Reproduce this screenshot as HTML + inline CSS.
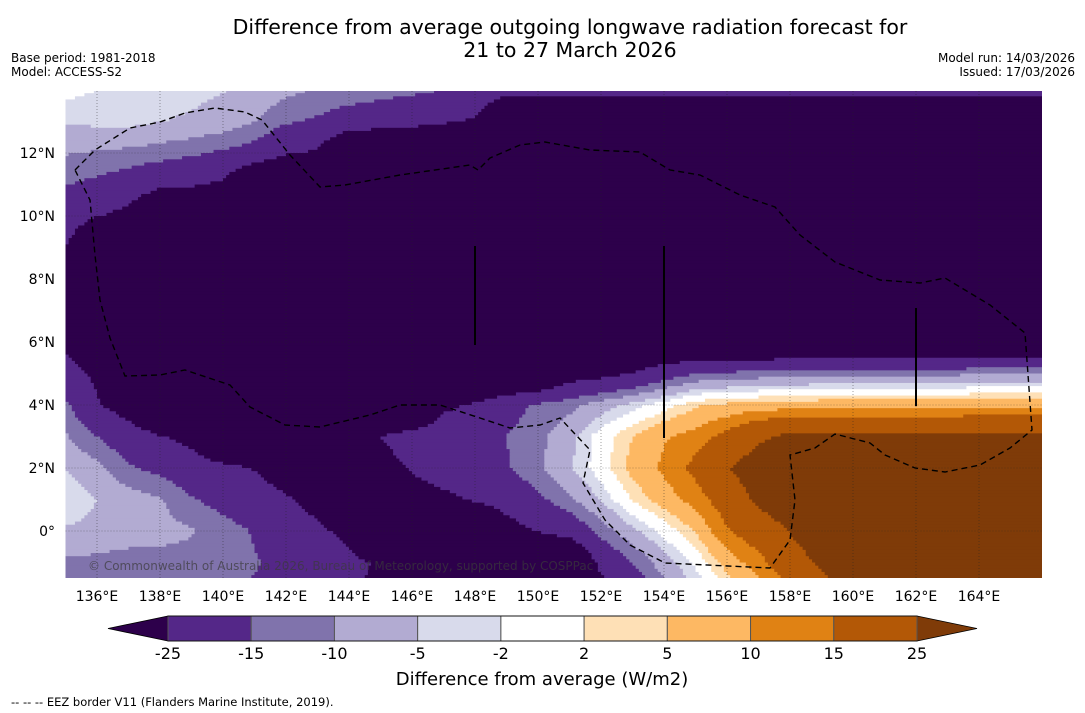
<!DOCTYPE html>
<html><head><meta charset="utf-8">
<style>
html,body{margin:0;padding:0;background:#fff;}
body{width:1085px;height:713px;overflow:hidden;position:relative;font-family:"DejaVu Sans","Liberation Sans",sans-serif;}
svg{position:absolute;left:0;top:0;}
text{font-family:"DejaVu Sans","Liberation Sans",sans-serif;fill:#000;}
</style></head>
<body>
<svg id="chart" width="1085" height="713" viewBox="0 0 1085 713" xmlns="http://www.w3.org/2000/svg">
  <text x="570" y="34" font-size="20.5" text-anchor="middle">Difference from average outgoing longwave radiation forecast for</text>
  <text x="570" y="57" font-size="20.5" text-anchor="middle">21 to 27 March 2026</text>
  <text x="11" y="62" font-size="12">Base period: 1981-2018</text>
  <text x="11" y="76" font-size="12">Model: ACCESS-S2</text>
  <text x="1075" y="62" font-size="12" text-anchor="end">Model run: 14/03/2026</text>
  <text x="1075" y="76" font-size="12" text-anchor="end">Issued: 17/03/2026</text>
  <defs><clipPath id="mapclip"><rect x="65.5" y="91" width="976.5" height="487"/></clipPath></defs>
  <g id="field" clip-path="url(#mapclip)"></g>
  <g id="grid" clip-path="url(#mapclip)"></g>
  <g clip-path="url(#mapclip)">
    <path fill="none" stroke="#000" stroke-width="1.4" stroke-dasharray="6,4"
      d="M75,170 L95,150 L130,128 L160,122 L185,113 L215,108 L245,112 L262,120 L290,155 L320,187 L345,185 L400,175 L470,165 L478,170 L490,158 L520,145 L545,142 L590,150 L640,152 L670,170 L700,175 L740,195 L775,207 L800,235 L835,262 L880,280 L920,283 L945,278 L990,305 L1025,333 L1032,430 L1010,448 L980,465 L945,472 L915,468 L885,455 L870,443 L835,434 L815,448 L790,455 L795,500 L790,540 L770,568 L665,563 L630,545 L605,520 L583,483 L590,450 L560,418 L540,425 L510,428 L480,418 L440,405 L400,405 L370,415 L320,427 L285,425 L250,407 L230,385 L185,370 L160,375 L125,376 L110,338 L100,300 L95,255 L90,200 Z"/>
    <line x1="475" y1="246" x2="475" y2="345" stroke="#000" stroke-width="2"/>
    <line x1="664" y1="246" x2="664" y2="438" stroke="#000" stroke-width="2"/>
    <line x1="916" y1="308" x2="916" y2="406" stroke="#000" stroke-width="2"/>
  </g>
  <text x="88" y="570" font-size="12" style="fill:#3a3a3a;fill-opacity:0.7">© Commonwealth of Australia 2026, Bureau of Meteorology, supported by COSPPac</text>
  <g id="xaxis"></g>
  <g id="yaxis"></g>
  <g id="colorbar"></g>
  <text x="542" y="685" font-size="18" text-anchor="middle">Difference from average (W/m2)</text>
  <text x="11" y="706" font-size="11.5">--  --  -- EEZ border V11 (Flanders Marine Institute, 2019).</text>
</svg>
<script>
const gridLons = [135,136,137,138,139,140,141,142,143,144,145,146,147,148,149,150,151,152,153,154,155,156,157,158,159,160,161,162,163,164,165,166];
const gridLats = [14,13,12,11,10,9,8,7,6,5,4,3,2,1,0,-1,-2];
const D=-40;
const row14 = [-1,-2,-3,-3.5,-4,-4.8,-6.5,-8.5,-10.5,-11.5,-12.5,-13.5,-15,-17,-22,-22,-22,-22,-22,-22,-22,-22,-22,-22,-22,-22,-22,-22,-22,-22,-22,-22];
const row13 = [-4.3,-4,-3.6,-4.9,-5.5,-6.7,-9.8,-14.2,-16,-18.8,-20.5,-22,-24,-26,D,D,D,D,D,D,D,D,D,D,D,D,D,D,D,D,D,D];
const row12 = [-9.7,-10.5,-11.3,-12.3,-13.9,-16,-18,-24.3,-26,D,D,D,D,D,D,D,D,D,D,D,D,D,D,D,D,D,D,D,D,D,D,D];
const row11 = [-14.8,-16.6,-18.8,-22.8,-24,-26.5,D,D,D,D,D,D,D,D,D,D,D,D,D,D,D,D,D,D,D,D,D,D,D,D,D,D];
const row10 = [-19.6,-24.5,-28,D,D,D,D,D,D,D,D,D,D,D,D,D,D,D,D,D,D,D,D,D,D,D,D,D,D,D,D,D];
const row9 = [-24.5,D,D,D,D,D,D,D,D,D,D,D,D,D,D,D,D,D,D,D,D,D,D,D,D,D,D,D,D,D,D,D];
const row8 = [-30,D,D,D,D,D,D,D,D,D,D,D,D,D,D,D,D,D,D,D,D,D,D,D,D,D,D,D,D,D,D,D];
const row7 = [D,D,D,D,D,D,D,D,D,D,D,D,D,D,D,D,D,D,D,D,D,D,D,D,D,D,D,D,D,D,D,D];
const row6 = [-27,D,D,D,D,D,D,D,D,D,D,D,D,D,D,D,D,D,D,D,D,D,D,D,D,D,D,D,D,D,D,D];
const row5 = [-20,-27,D,D,D,D,D,D,D,D,D,D,D,D,D,D,-30,-28,-25,-19,-15,-14,-13,-12.5,-11.5,-11.5,-11.5,-11.5,-11.5,-10,-10,-10];
const row4 = [-13.7,-24,-30,D,D,D,D,D,D,D,D,D,-27,-24,-18,-14,-11.5,-7.5,-3.5,0,4.5,6,7,7.5,8,8,8,8,8,9,9,9];
const row3 = [-9.5,-15,-20,-24.5,-28,D,D,D,D,D,-25,-21,-19,-17.5,-15,-11.5,-6.5,0,5,9.5,12,17,23.5,27,27,27,27,27,27,27,27,27];
const row2 = [-5,-8.5,-14,-17,-20,-22.5,-25.5,-30,D,D,-28,-24.5,-21,-18.5,-15.5,-11,-5.5,0,6.5,11,17,24.5,30,30,30,30,30,30,30,30,30,30];
const row1 = [-2.5,-5,-7.5,-9.5,-14.5,-17.5,-20.5,-24,-28,D,D,-28,-27,-24,-21,-16.5,-11,-4.5,2.2,7.5,12,19,27,32,32,32,32,32,32,32,32,32];
const row0 = [-5.5,-6,-7,-8,-9.5,-12.5,-15.5,-20,-23.5,-27,D,D,D,D,-29,-24.5,-21,-13,-6,-0.7,5.5,14.5,19,25.5,32,32,32,32,32,32,32,32];
const rowS1 = [-11,-11.5,-12.5,-12,-12,-13,-14.5,-17,-20,-23,-26,D,D,D,D,D,D,-22,-15,-7,-1,7,13,20,27,32,32,32,32,32,32,32];
const rowS2 = [-16,-14,-14,-14,-14,-15,-16,-18,-21,-24,-27,D,D,D,D,D,D,-30,-22,-13,-6,1,7,14,20,26,32,32,32,32,32,32];
const fieldRows = [row14,row13,row12,row11,row10,row9,row8,row7,row6,row5,row4,row3,row2,row1,row0,rowS1,rowS2];
const levels = [-25,-15,-10,-5,-2,2,5,10,15,25];
const levelLabels = ["-25","-15","-10","-5","-2","2","5","10","15","25"];
const levelColors = ["#2d004b","#542788","#8073ac","#b2abd2","#d8daeb","#ffffff","#fee0b6","#fdb863","#e08214","#b35806","#7f3b08"];
const xTicks = [136,138,140,142,144,146,148,150,152,154,156,158,160,162,164];
const yTicks = [0,2,4,6,8,10,12];

const NS="http://www.w3.org/2000/svg";
function xScale(lon){return 65.5+(lon-135)*31.5;}
function yScale(lat){return 531-lat*31.5;}
function mk(tag,attrs,parent){const e=document.createElementNS(NS,tag);for(const k in attrs)e.setAttribute(k,attrs[k]);parent.appendChild(e);return e;}
function valueAt(lon,lat){
  let fi=(lon-gridLons[0])/(gridLons[1]-gridLons[0]);
  let fj=(gridLats[0]-lat)/(gridLats[0]-gridLats[1]);
  fi=Math.max(0,Math.min(gridLons.length-1.0001,fi));
  fj=Math.max(0,Math.min(gridLats.length-1.0001,fj));
  const i=Math.floor(fi),j=Math.floor(fj),u=fi-i,v=fj-j;
  const a=fieldRows[j][i],b=fieldRows[j][i+1],c=fieldRows[j+1][i],d=fieldRows[j+1][i+1];
  return (a*(1-u)+b*u)*(1-v)+(c*(1-u)+d*u)*v;
}
function colorIndex(val){let k=0;while(k<levels.length&&val>=levels[k])k++;return k;}

const field=document.getElementById('field');
const step=0.1;
for(let lat=14.05;lat>-1.6;lat-=step){
  const y0=yScale(lat+step/2), h=step*31.5+0.6;
  let runStart=135, runCol=-1;
  for(let lon=135;lon<=166.0001+step;lon+=step){
    const c=lon>166.0001?-2:colorIndex(valueAt(lon+step/2,lat));
    if(c!==runCol){
      if(runCol>=0){
        const r=mk('rect',{x:xScale(runStart).toFixed(2),y:y0.toFixed(2),width:((lon-runStart)*31.5+0.6).toFixed(2),height:h.toFixed(2),fill:levelColors[runCol]},field);
        
        
      }
      runStart=lon;runCol=c;
    }
  }
}
const grid=document.getElementById('grid');
xTicks.forEach(lon=>{
  const l=mk('line',{x1:xScale(lon),x2:xScale(lon),y1:91,y2:578,stroke:'#222','stroke-width':0.6,'stroke-dasharray':'1,2','stroke-opacity':0.7},grid);
  
  
});
yTicks.forEach(lat=>{
  const l=mk('line',{x1:65.5,x2:1042,y1:yScale(lat),y2:yScale(lat),stroke:'#222','stroke-width':0.6,'stroke-dasharray':'1,2','stroke-opacity':0.7},grid);
  
  
});
const xaxis=document.getElementById('xaxis');
xTicks.forEach(lon=>{
  const t=mk('text',{x:xScale(lon),y:601,'font-size':14,'text-anchor':'middle'},xaxis);
  t.textContent=lon+'°E';
  
  
});
const yaxis=document.getElementById('yaxis');
yTicks.forEach(lat=>{
  const t=mk('text',{x:55,y:yScale(lat)+5,'font-size':14,'text-anchor':'end'},yaxis);
  t.textContent=lat===0?'0°':lat+'°N';
  
  
});
const cb=document.getElementById('colorbar');
const cbX0=168,cbX1=917,cbY=616,cbH=25,nBox=levels.length-1,bw=(cbX1-cbX0)/nBox;
const lt=mk('polygon',{points:`108,${cbY+cbH/2} ${cbX0},${cbY} ${cbX0},${cbY+cbH}`,fill:levelColors[0]},cb);


const rt=mk('polygon',{points:`${cbX1},${cbY} 977,${cbY+cbH/2} ${cbX1},${cbY+cbH}`,fill:levelColors[levelColors.length-1]},cb);


for(let k=0;k<nBox;k++){
  const r=mk('rect',{x:cbX0+k*bw,y:cbY,width:bw,height:cbH,fill:levelColors[k+1],stroke:'#555','stroke-width':1},cb);
  
  
}
mk('path',{d:`M108,${cbY+cbH/2} L${cbX0},${cbY} L${cbX1},${cbY} L977,${cbY+cbH/2} L${cbX1},${cbY+cbH} L${cbX0},${cbY+cbH} Z`,fill:'none',stroke:'#000','stroke-width':0.8},cb);
levelLabels.forEach((lab,k)=>{
  const t=mk('text',{x:cbX0+k*bw,y:659,'font-size':16,'text-anchor':'middle'},cb);
  t.textContent=lab;
  
  
});
</script>
</body></html>
